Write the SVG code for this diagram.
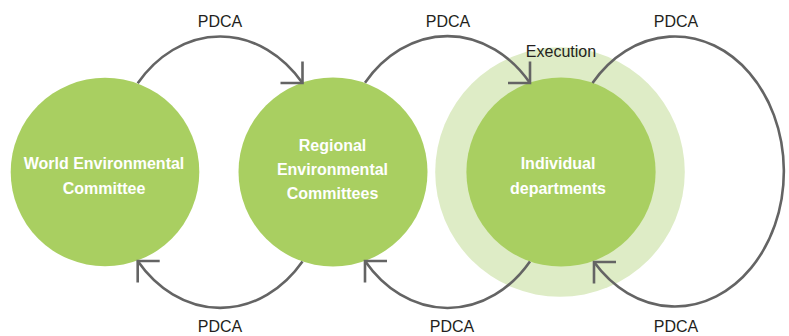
<svg xmlns="http://www.w3.org/2000/svg" width="789" height="336" viewBox="0 0 789 336">
<style>
.node{fill:#a9cf61}
.ring{fill:#deecc6}
.nt{font-family:"Liberation Sans",Arial,sans-serif;font-size:16px;font-weight:bold;fill:#ffffff;text-anchor:middle}
.lb{font-family:"Liberation Sans",Arial,sans-serif;font-size:16px;fill:#231f20;text-anchor:middle}
.arc{fill:none;stroke:#646464;stroke-width:2.6}
</style>
<defs>
<path id="ah" d="M0,-21.5 V0 H-22" fill="none" stroke="#646464" stroke-width="2.6"/>
</defs>
<rect width="789" height="336" fill="#ffffff"/>
<g id="node-world">
<circle class="node" cx="105" cy="172" r="94.3"/>
<text class="nt" x="104" y="168.5">World Environmental</text>
<text class="nt" x="104" y="193.5">Committee</text>
</g>
<g id="node-regional">
<circle class="node" cx="333" cy="172" r="94.5"/>
<text class="nt" x="332.5" y="151">Regional</text>
<text class="nt" x="332.5" y="175">Environmental</text>
<text class="nt" x="332.5" y="199">Committees</text>
</g>
<g id="node-individual">
<circle class="ring" cx="560" cy="172" r="124.8"/>
<circle class="node" cx="561" cy="172" r="94.6"/>
<text class="nt" x="558" y="168.5">Individual</text>
<text class="nt" x="558" y="193.5">departments</text>
<text class="lb" x="561" y="56.5">Execution</text>
</g>
<g id="connectors">
<path class="arc" d="M137.7,83.3 A109,135 0 0 1 302.5,83"/>
<use href="#ah" transform="translate(302.5,83)"/>
<text class="lb" x="220" y="27">PDCA</text>
<path class="arc" d="M365,82.7 A109,135 0 0 1 530,83"/>
<use href="#ah" transform="translate(530,83)"/>
<text class="lb" x="448" y="27">PDCA</text>
<path class="arc" d="M592.5,83 A109,135 0 1 1 594,262"/>
<use href="#ah" transform="translate(594,262) rotate(180)"/>
<text class="lb" x="676" y="27">PDCA</text>
<path class="arc" d="M302.5,261.5 A109,135 0 0 1 137.7,261"/>
<use href="#ah" transform="translate(137.7,261) rotate(180)"/>
<text class="lb" x="220" y="332">PDCA</text>
<path class="arc" d="M530,261.5 A109,135 0 0 1 365,261"/>
<use href="#ah" transform="translate(365,261) rotate(180)"/>
<text class="lb" x="452" y="332">PDCA</text>
<text class="lb" x="676" y="332">PDCA</text>
</g>
</svg>
